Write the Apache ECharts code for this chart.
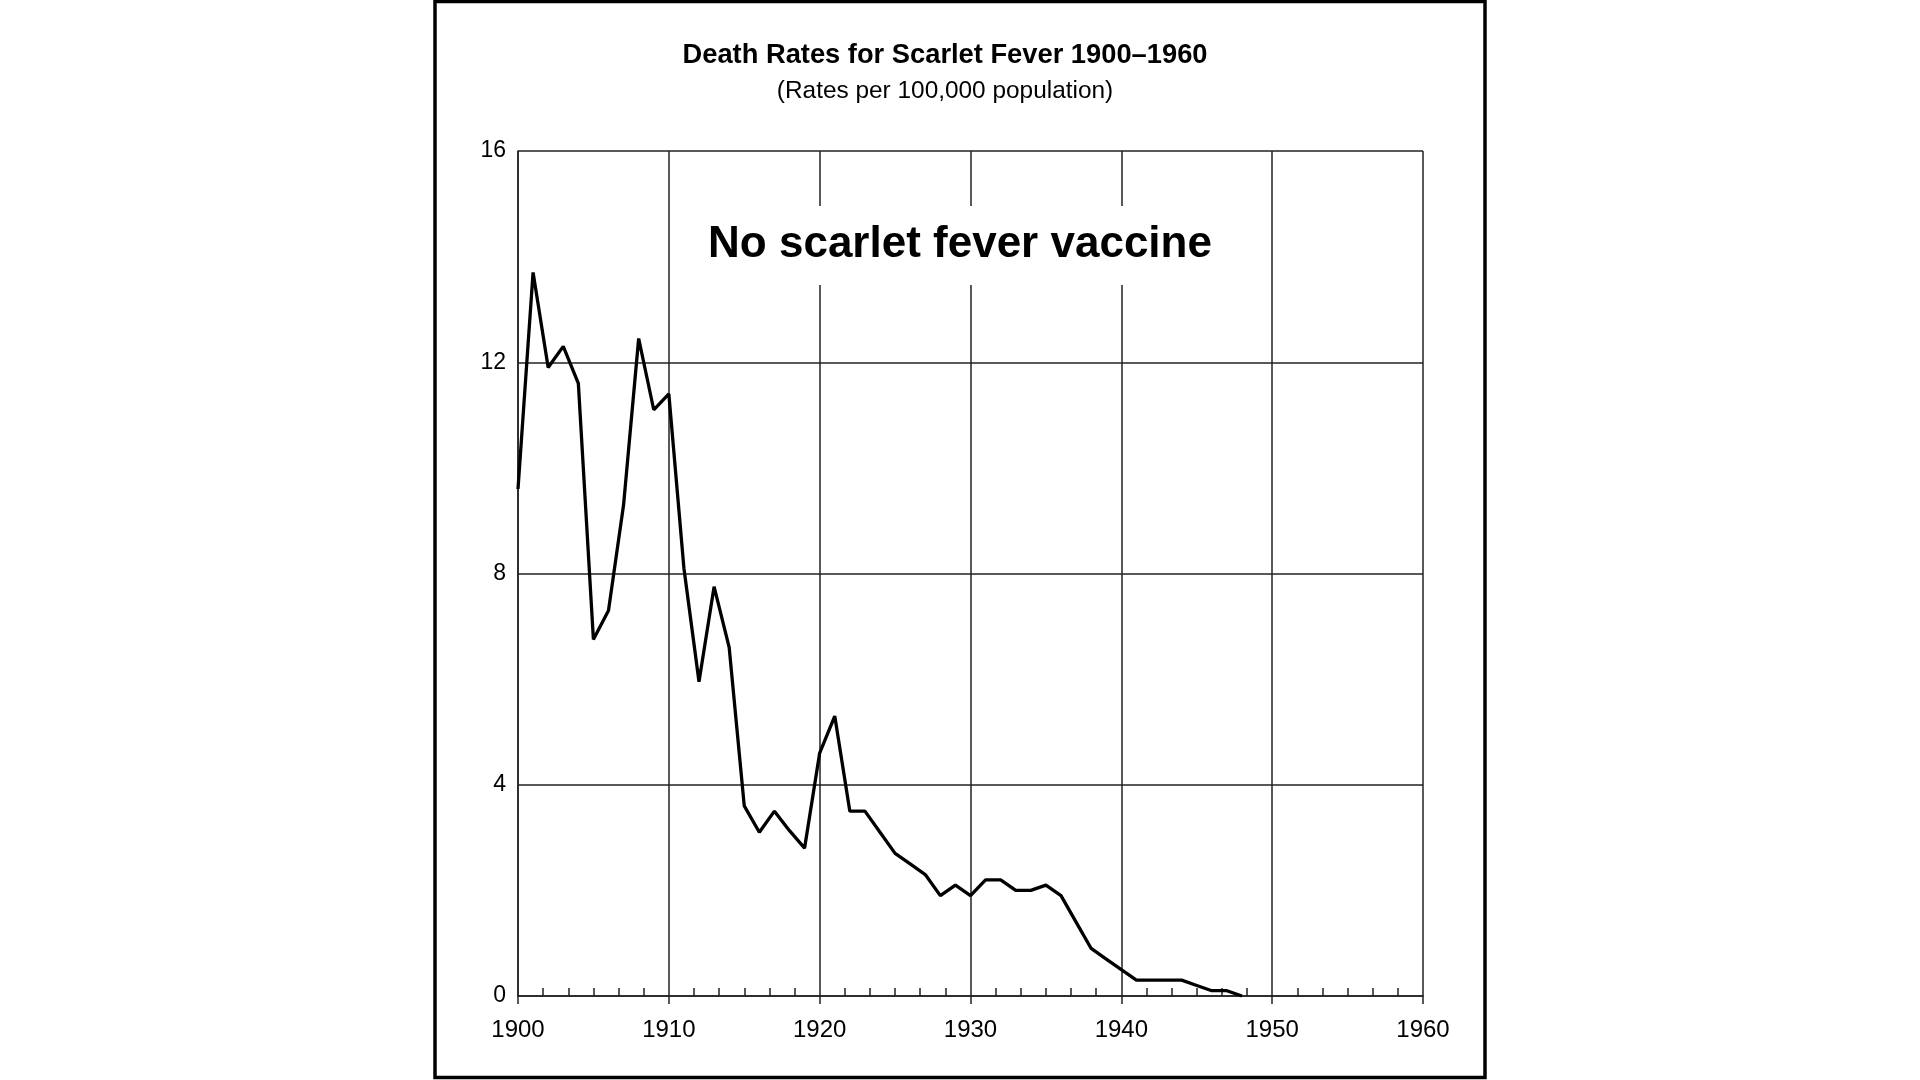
<!DOCTYPE html>
<html>
<head>
<meta charset="utf-8">
<script src="https://cdn.jsdelivr.net/npm/echarts@6/dist/echarts.min.js"></script>
<style>
html,body{margin:0;padding:0;background:#fff;}
#chart{width:1920px;height:1080px;}
</style>
</head>
<body>
<div id="chart"></div>
<script>
var years = [1900,1901,1902,1903,1904,1905,1906,1907,1908,1909,
             1910,1911,1912,1913,1914,1915,1916,1917,1918,1919,
             1920,1921,1922,1923,1924,1925,1926,1927,1928,1929,
             1930,1931,1932,1933,1934,1935,1936,1937,1938,1939,
             1940,1941,1942,1943,1944,1945,1946,1947,1948];
var deathRates = [9.6,13.7,11.9,12.3,11.6,6.75,7.3,9.3,12.45,11.1,
                  11.4,8.1,5.95,7.75,6.6,3.6,3.1,3.5,3.13,2.8,
                  4.6,5.3,3.5,3.5,3.1,2.7,2.5,2.3,1.9,2.1,
                  1.9,2.2,2.2,2.0,2.0,2.1,1.9,1.4,0.9,0.7,
                  0.5,0.3,0.3,0.3,0.3,0.2,0.1,0.1,0];
var xTicks = [1900,1910,1920,1930,1940,1950,1960];
var yTicks = [0,4,8,12,16];
var titleText = 'Death Rates for Scarlet Fever 1900\u20131960';
var subtitleText = '(Rates per 100,000 population)';
var annotationText = 'No scarlet fever vaccine';

var seriesData = years.map(function(y,i){ return [y, deathRates[i]]; });
var font = '"Liberation Sans", Arial, Helvetica, sans-serif';
var gridColor = '#222';

var chart = echarts.init(document.getElementById('chart'));
chart.setOption({
  backgroundColor: '#fff',
  animation: false,
  grid: { left: 518, right: 497, top: 151, bottom: 84, containLabel: false },
  xAxis: [{
    type: 'value',
    position: 'bottom',
    min: xTicks[0], max: xTicks[xTicks.length-1], interval: 10,
    axisLine: { show: true, onZero: false, lineStyle: { color: gridColor, width: 1.5 } },
    axisTick: { show: true, inside: false, length: 8, lineStyle: { color: gridColor, width: 1.5 } },
    axisLabel: { show: true, margin: 22, color: '#000', fontSize: 24, fontFamily: font,
                 formatter: function(v){ return String(v); } },
    splitLine: { show: true, lineStyle: { color: gridColor, width: 1.5 } },
    minorTick: { show: false }
  },{
    type: 'value',
    position: 'bottom',
    min: xTicks[0], max: xTicks[xTicks.length-1], interval: 10,
    axisLine: { show: false, onZero: false },
    axisTick: { show: false, inside: true },
    axisLabel: { show: false },
    splitLine: { show: false },
    minorTick: { show: true, splitNumber: 6, length: 8, lineStyle: { color: gridColor, width: 1.5 } }
  }],
  yAxis: {
    type: 'value',
    min: yTicks[0], max: yTicks[yTicks.length-1], interval: 4,
    axisLine: { show: true, lineStyle: { color: gridColor, width: 1.5 } },
    axisTick: { show: false },
    axisLabel: { show: true, margin: 12, color: '#000', fontSize: 23, fontFamily: font },
    splitLine: { show: true, lineStyle: { color: gridColor, width: 1.5 } }
  },
  series: [{
    type: 'line',
    xAxisIndex: 0,
    data: seriesData,
    showSymbol: false,
    symbol: 'none',
    lineStyle: { color: '#000', width: 3.3 },
    z: 5
  }],
  graphic: [
    { type: 'rect', z: 100, shape: { x: 435, y: 1.5, width: 1050, height: 1076 },
      style: { fill: 'none', stroke: '#000', lineWidth: 3.5 } },
    { type: 'rect', z: 100, shape: { x: 692, y: 206, width: 536, height: 79 },
      style: { fill: '#fff' } },
    { type: 'text', z: 101, x: 960, y: 245,
      style: { text: annotationText, align: 'center', verticalAlign: 'middle',
               font: 'bold 44px ' + font, fill: '#000' } },
    { type: 'text', z: 101, x: 945, y: 55,
      style: { text: titleText, align: 'center', verticalAlign: 'middle',
               font: 'bold 27.3px ' + font, fill: '#000' } },
    { type: 'text', z: 101, x: 945, y: 91,
      style: { text: subtitleText, align: 'center', verticalAlign: 'middle',
               font: '24.4px ' + font, fill: '#000' } }
  ]
});
</script>
</body>
</html>
